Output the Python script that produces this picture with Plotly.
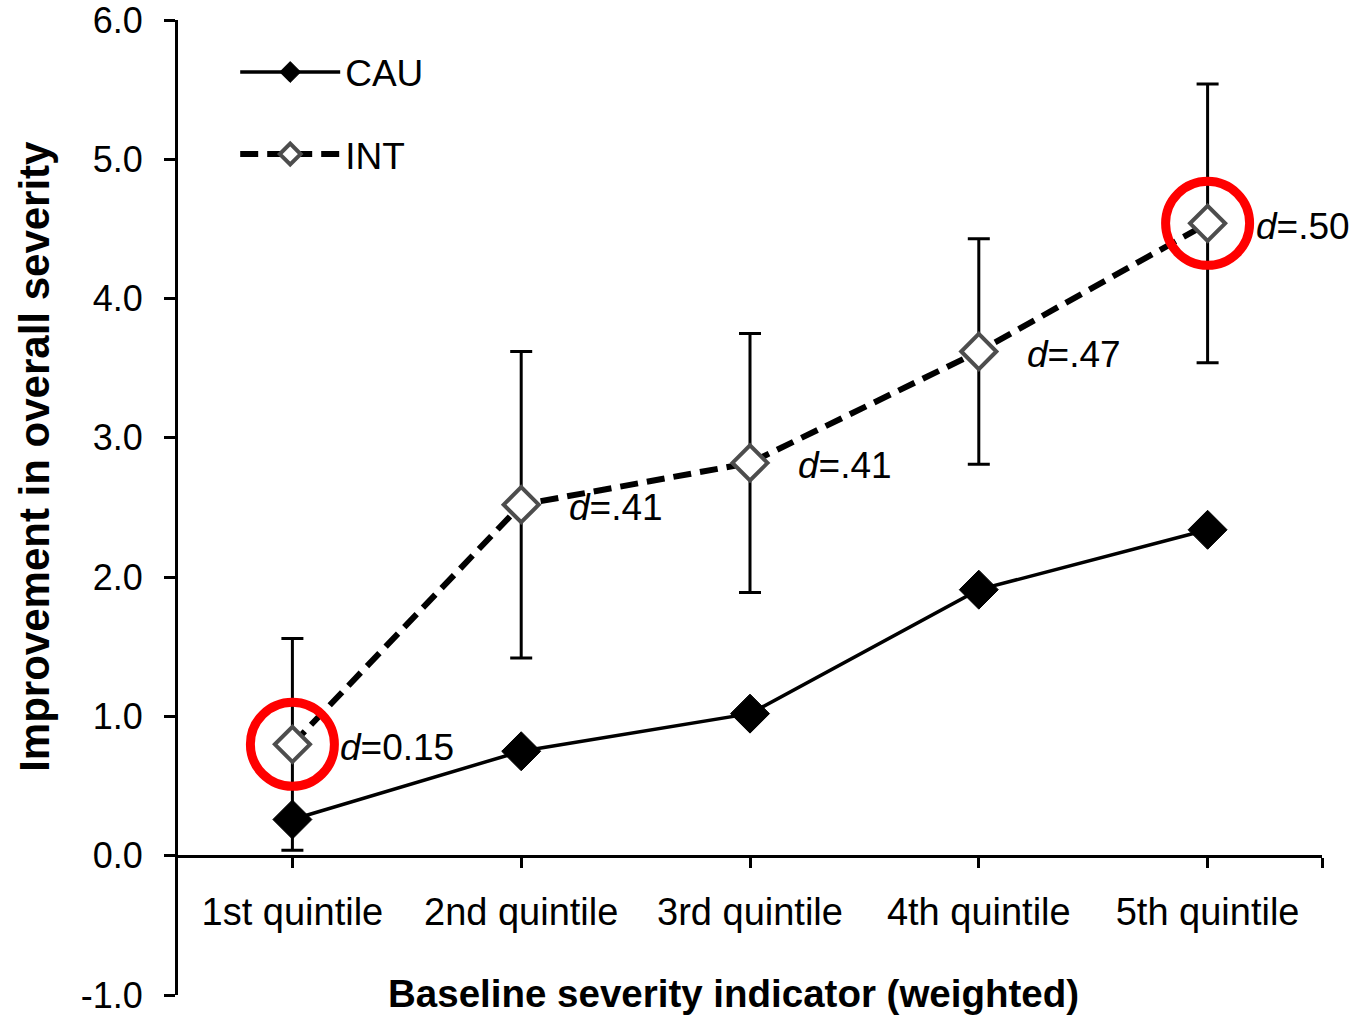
import plotly.graph_objects as go

# Quintiles of the weighted baseline severity indicator
categories = ["1st quintile", "2nd quintile", "3rd quintile", "4th quintile", "5th quintile"]

# Mean improvement in overall severity per group
cau_values = [0.26, 0.75, 1.02, 1.91, 2.34]
int_values = [0.80, 2.52, 2.82, 3.62, 4.54]
int_errors = [0.76, 1.10, 0.93, 0.81, 1.00]

# Effect sizes (Cohen's d) of INT vs CAU in each quintile
effect_labels = ["<i>d</i>=0.15", "<i>d</i>=.41", "<i>d</i>=.41", "<i>d</i>=.47", "<i>d</i>=.50"]

# Quintiles whose INT point is circled
highlighted = [0, 4]

y_tick_values = [-1, 0, 1, 2, 3, 4, 5, 6]
y_tick_labels = ["-1.0", "0.0", "1.0", "2.0", "3.0", "4.0", "5.0", "6.0"]

x_title = "Baseline severity indicator (weighted)"
y_title = "Improvement in overall severity"

FONT = "Liberation Sans, Arial, sans-serif"
positions = list(range(1, len(categories) + 1))

fig = go.Figure()

# INT: dashed line, open diamonds, error bars
fig.add_trace(go.Scatter(
    x=positions, y=int_values, name="INT", mode="lines+markers",
    legendgroup="int", legendrank=2,
    line=dict(color="black", width=6, dash="18px,9px"),
    marker=dict(symbol="diamond", size=27, color="white",
                line=dict(color="#4d4d4d", width=4)),
    error_y=dict(type="data", array=int_errors, visible=True,
                 color="black", thickness=3, width=11),
))

# CAU: solid line, filled diamonds
fig.add_trace(go.Scatter(
    x=positions, y=cau_values, name="CAU", mode="lines+markers",
    legendgroup="cau", legendrank=1,
    line=dict(color="black", width=3.5),
    marker=dict(symbol="diamond", size=30, color="black",
                line=dict(color="black", width=1)),
))

# Red rings around the highlighted INT points
fig.add_trace(go.Scatter(
    x=[positions[i] for i in highlighted],
    y=[int_values[i] for i in highlighted],
    mode="markers", showlegend=False, hoverinfo="skip",
    marker=dict(symbol="circle-open", size=84, color="#ff0000",
                line=dict(color="#ff0000", width=9)),
))

# Effect-size labels next to the INT points
for x, y, txt in zip(positions, int_values, effect_labels):
    fig.add_annotation(
        x=x, y=y, text=txt, showarrow=False,
        xanchor="left", yanchor="middle", xshift=46, yshift=-3,
        font=dict(family=FONT, size=37, color="black"),
    )

# Axis titles
fig.add_annotation(
    xref="paper", yref="paper", x=0.486, y=0.002,
    xanchor="center", yanchor="middle", showarrow=False,
    text="<b>" + x_title + "</b>",
    font=dict(family=FONT, size=38.5, color="black"),
)
fig.add_annotation(
    xref="paper", yref="paper", x=-0.125, y=0.552,
    xanchor="center", yanchor="middle", showarrow=False, textangle=-90,
    text="<b>" + y_title + "</b>",
    font=dict(family=FONT, size=42, color="black"),
)

fig.update_layout(
    width=1358, height=1017,
    margin=dict(l=178, r=36, t=20, b=22),
    paper_bgcolor="white", plot_bgcolor="white",
    font=dict(family=FONT, color="black"),
    legend=dict(
        x=0.05, y=0.978, xanchor="left", yanchor="top",
        traceorder="grouped", tracegroupgap=31,
        font=dict(family=FONT, size=37, color="black"),
        bgcolor="rgba(0,0,0,0)", itemwidth=100,
    ),
    xaxis=dict(
        range=[0.5, 5.5],
        tickvals=positions + [5.5],
        ticktext=categories + [""],
        anchor="free", position=1 / 7,
        showline=True, linecolor="black", linewidth=3,
        ticks="outside", ticklen=10, tickwidth=3, tickcolor="black",
        ticklabelstandoff=12,
        tickfont=dict(family=FONT, size=38, color="black"),
        showgrid=False, zeroline=False,
    ),
    yaxis=dict(
        range=[-1, 6],
        tickvals=y_tick_values, ticktext=y_tick_labels,
        showline=True, linecolor="black", linewidth=3,
        ticks="outside", ticklen=11, tickwidth=3, tickcolor="black",
        ticklabelstandoff=14, ticklabeloverflow="allow",
        tickfont=dict(family=FONT, size=36, color="black"),
        showgrid=False, zeroline=False,
        automargin=False,
    ),
)

fig.write_html("out.html")
